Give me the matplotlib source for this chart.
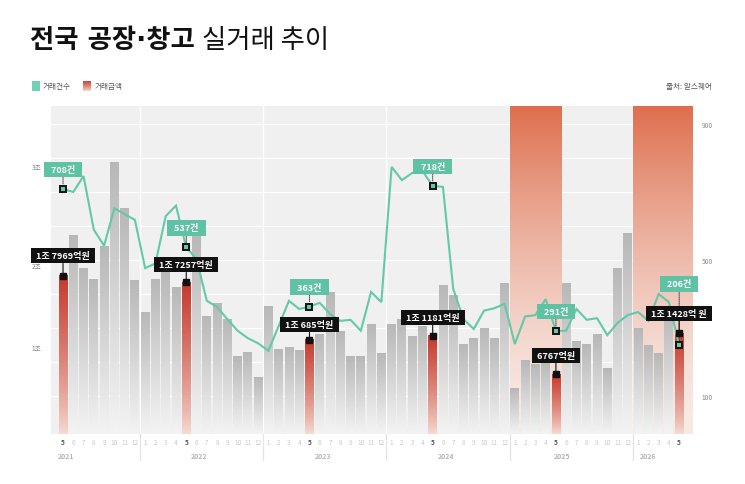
import numpy as np
import matplotlib
matplotlib.use('Agg')
import matplotlib.pyplot as plt
import matplotlib.transforms as mtransforms
from matplotlib.colors import to_rgb
from matplotlib.patches import Rectangle

plt.rcParams['font.family'] = ['Noto Sans CJK KR', 'DejaVu Sans']

# ── Data ───────────────────────────────────────────────────────────────────────
years = [2021, 2022, 2023, 2024, 2025, 2026]
months = ([5, 6, 7, 8, 9, 10, 11, 12]
          + list(range(1, 13)) * 4
          + [1, 2, 3, 4, 5])

# 거래금액 (조 원)
amounts = [1.7969, 2.25, 1.875, 1.76, 2.13, 3.09, 2.56, 1.74,
           1.375, 1.76, 1.86, 1.67, 1.7257, 2.25, 1.34, 1.48, 1.30, 0.875, 0.93, 0.64,
           1.45, 0.955, 0.98, 0.95, 1.0685, 1.13, 1.61, 1.17, 0.875, 0.875, 1.24, 0.91,
           1.24, 1.30, 1.105, 1.22, 1.1181, 1.69, 1.57, 1.02, 1.09, 1.20, 1.09, 1.71,
           0.52, 0.84, 0.79, 0.83, 0.6767, 1.71, 1.05, 1.02, 1.13, 0.74, 1.875, 2.28,
           1.20, 1.00, 0.91, 1.40, 1.1428]

# 거래건수
counts = [709, 700, 747, 589, 542, 652, 635, 618,
          476, 490, 629, 660, 537, 503, 380, 362, 326, 292, 270, 255,
          233, 306, 380, 356, 363, 374, 341, 321, 324, 292, 406, 376,
          774, 735, 756, 762, 718, 715, 415, 326, 297, 351, 358, 371,
          253, 334, 338, 385, 291, 292, 356, 324, 329, 279, 315, 338,
          347, 321, 400, 376, 250]

count_labels = ['708건', '537건', '363건', '718건', '291건', '206건']
amount_labels = ['1조 7969억원', '1조 7257억원', '1조 685억원', '1조 1181억원',
                 '6767억원', '1조 1428억 원']
left_tick_labels = ['1조', '2조', '3조']
right_tick_labels = ['100', '500', '900']
shaded_years = [2025, 2026]

# ── Colours ────────────────────────────────────────────────────────────────────
TEAL = '#62c9a9'
TEAL_BOX = '#5fc2a4'
BG = '#f0f0f0'

# year of each bar
bar_years = []
y = years[0]
for i, m in enumerate(months):
    if i > 0 and m == 1:
        y += 1
    bar_years.append(y)

x = np.arange(len(months))
highlight = [i for i, m in enumerate(months) if m == 5]

fig = plt.figure(figsize=(7.45, 4.85), dpi=100)
W, H = 745, 485
ax = fig.add_axes([51 / W, 1 - 435 / H, (692 - 51) / W, (435 - 107) / H])
ax.set_facecolor(BG)
ax2 = ax.twinx()
ax2.patch.set_visible(False)

XLIM = (-1.17, 61.25)
YLIM = (0, 3.727)
Y2LIM = (-11.8, 953)

# gridlines from right axis (every 100)
for v in range(100, 1000, 100):
    f = (v - Y2LIM[0]) / (Y2LIM[1] - Y2LIM[0])
    ax.plot([0, 1], [f, f], transform=ax.transAxes, color='white', lw=0.9, zorder=1)

# year separators
sep_x = [i - 0.5 for i in range(1, len(months)) if months[i] == 1]
trans = mtransforms.blended_transform_factory(ax.transData, ax.transAxes)
for s in sep_x:
    ax.plot([s, s], [0, 1], transform=trans, color='white', lw=1.0, zorder=1.2)
    ax.plot([s, s], [0, -0.078], transform=trans, color='#e4e4e4', lw=0.9,
            clip_on=False, zorder=1.2)

# shaded gradient bands (Jan–May of selected years)
orange = np.array(to_rgb('#de6f4e'))
light = np.array(to_rgb('#f8ebe6'))
t = np.linspace(0, 1, 256) ** 1.5
band = (light[None, :] + t[:, None] * (orange - light)[None, :])[:, None, :]
for yr in shaded_years:
    idx = [i for i in x if bar_years[i] == yr and months[i] <= 5]
    x0 = idx[0] - 0.5
    x1 = idx[-1] + 0.5 if idx[-1] < len(months) - 1 else XLIM[1]
    ax.imshow(band, extent=[x0, x1, YLIM[0], YLIM[1]], origin='lower',
              aspect='auto', interpolation='bilinear', zorder=1.5)

# gradient bars
w = 0.86
tg = np.linspace(0, 1, 256)
gtop, gbot = np.array([0.72] * 3), np.array([0.955] * 3)
grey = (gbot[None, :] + tg[:, None] * (gtop - gbot)[None, :])[:, None, :]
rtop, rbot = np.array(to_rgb('#c6392c')), np.array(to_rgb('#f6ddd5'))
tr = tg ** 0.8
red = (rbot[None, :] + tr[:, None] * (rtop - rbot)[None, :])[:, None, :]
for i, a in zip(x, amounts):
    img = red if i in highlight else grey
    ax.imshow(img, extent=[i - w / 2, i + w / 2, 0, a], origin='lower',
              aspect='auto', interpolation='bilinear', zorder=3)

# line
ax2.plot(x, counts, color=TEAL, lw=1.5, zorder=4, solid_joinstyle='miter')

ax.set_xlim(*XLIM)
ax.set_ylim(*YLIM)
ax2.set_ylim(*Y2LIM)

for a_ in (ax, ax2):
    for sp in a_.spines.values():
        sp.set_visible(False)

# axis ticks (left labels sit where the reference draws them)
ax.set_yticks([0.99, 1.92, 3.05])
ax.set_yticklabels(left_tick_labels)
ax.tick_params(axis='y', length=0, pad=7, labelsize=4.8, labelcolor='#8a8a8a')
ax2.set_yticks([100, 500, 900])
ax2.set_yticklabels(right_tick_labels)
ax2.tick_params(axis='y', length=0, pad=7, labelsize=4.8, labelcolor='#8a8a8a')

ax.set_xticks(x)
ax.set_xticklabels([str(m) for m in months])
ax.tick_params(axis='x', length=0, pad=3, labelsize=4.6, labelcolor='#c9c9c9')
for lbl, m in zip(ax.get_xticklabels(), months):
    if m == 5:
        lbl.set_color('#555555')
        lbl.set_fontweight('bold')

# year labels
year_label_x = [0.3, 13.2, 25.3, 37.3, 48.6, 57.0]
for yr, xp in zip(years, year_label_x):
    ax.text(xp, -0.066, str(yr), transform=trans, ha='center', va='center',
            fontsize=5, color='#b5b5b5', fontweight='bold')

# markers
hx = [x[i] for i in highlight]
ax2.plot(hx, [counts[i] for i in highlight], ls='none', marker='s', ms=4.6,
         mfc=TEAL, mec='#111111', mew=1.4, zorder=6)
amount_dy = [14.5, 12.5, 11, 13, 13.5, 14.5]
count_dy = [14, 14, 14, 14, 14, 44]
for k, i in enumerate(highlight):
    # count label
    ax2.annotate('  ' + count_labels[k] + '  ', xy=(i, counts[i]),
                 xytext=(0, count_dy[k]), textcoords='offset points',
                 ha='center', va='center', fontsize=6.5, fontweight='bold', color='white',
                 bbox=dict(boxstyle='square,pad=0.35', fc=TEAL_BOX, ec='none'),
                 arrowprops=dict(arrowstyle='-', ls=(0, (1, 1)), color='#444444', lw=0.7,
                                 shrinkA=0, shrinkB=3),
                 zorder=7)
for k, i in enumerate(highlight):
    yb = ax2.transData.inverted().transform(ax.transData.transform((i, amounts[i])))[1]
    ax2.plot([i], [yb], ls='none', marker='s', ms=5, color='#111111', zorder=8)
    ax2.annotate(' ' + amount_labels[k] + ' ', xy=(i, yb),
                 xytext=(0, amount_dy[k]), textcoords='offset points',
                 ha='center', va='center', fontsize=6.5, fontweight='bold', color='white',
                 bbox=dict(boxstyle='square,pad=0.35', fc='#111111', ec='none'),
                 arrowprops=dict(arrowstyle='-', color='#111111', lw=0.8,
                                 shrinkA=0, shrinkB=2),
                 zorder=9)

# ── Title, legend, source ──────────────────────────────────────────────────────
t1 = fig.text(30 / W, 1 - 41 / H, '전국 공장·창고', fontsize=19, fontweight='bold',
              va='center', ha='left', color='#111111',
              family=['DejaVu Sans', 'Noto Sans CJK KR'])
fig.canvas.draw()
bb = t1.get_window_extent()
fig.text((bb.x1 + 7) / W, 1 - 41 / H, '실거래 추이', fontsize=19,
         va='center', ha='left', color='#111111')

fig.patches.append(Rectangle((32 / W, 1 - 92 / H), 8 / W, 10 / H, transform=fig.transFigure,
                             fc='#72d0b3', ec='none'))
fig.text(43 / W, 1 - 87 / H, '거래건수', fontsize=5.5, color='#555555', va='center')
lax = fig.add_axes([83 / W, 1 - 92 / H, 8 / W, 10 / H])
lax.imshow(red, extent=[0, 1, 0, 1], origin='lower', aspect='auto')
lax.axis('off')
fig.text(95 / W, 1 - 87 / H, '거래금액', fontsize=5.5, color='#555555', va='center')
fig.text(712 / W, 1 - 87 / H, '출처: 알스퀘어', fontsize=5.5, color='#555555',
         va='center', ha='right')

plt.savefig('out.png', dpi=100)
